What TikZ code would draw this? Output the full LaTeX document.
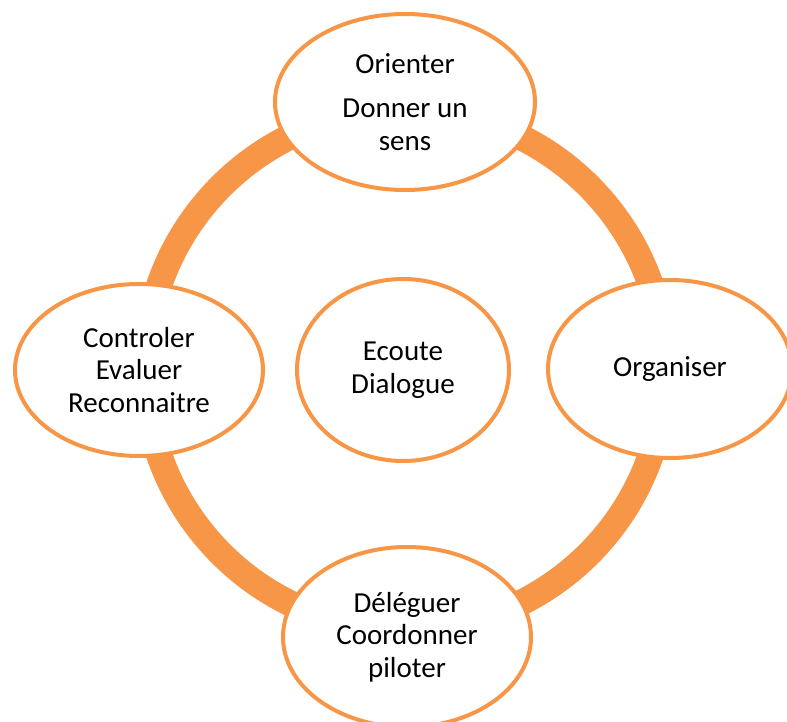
\documentclass[tikz,border=0pt]{standalone}
\usepackage{fontspec}
\setmainfont{Carlito}
\usetikzlibrary{shapes.geometric}
\definecolor{accentorange}{HTML}{F79646}
\tikzset{
  stage/.style={ellipse, draw=accentorange, line width=4pt, fill=white,
    inner sep=0pt, align=center, text=black,
    font=\fontsize{29pt}{32.5pt}\selectfont},
  cycle ring/.style={draw=accentorange, line width=26pt}
}
\begin{document}
\begin{tikzpicture}[x=1pt, y=-1pt]
  \useasboundingbox (0,0) rectangle (787,722);
  % thick ring linking the four stages
  \coordinate (hub) at (405,370);
  \draw[cycle ring] (hub) circle[radius=260pt];
  % stages around the ring
  \node[stage, minimum width=260pt, minimum height=176pt] (orienter) at (405,102)
    {Orienter\\[12pt]Donner un\\sens};
  \node[stage, minimum width=244pt, minimum height=178pt] (organiser) at (670,369)
    {Organiser};
  \node[stage, minimum width=248pt, minimum height=180pt] (deleguer) at (407,637)
    {Déléguer\\Coordonner\\piloter};
  \node[stage, minimum width=248pt, minimum height=172pt] (controler) at (139,370)
    {Controler\\Evaluer\\Reconnaitre};
  % centre
  \node[stage, minimum width=212pt, minimum height=182pt] (ecoute) at (403,370)
    {Ecoute\\Dialogue};
\end{tikzpicture}
\end{document}
